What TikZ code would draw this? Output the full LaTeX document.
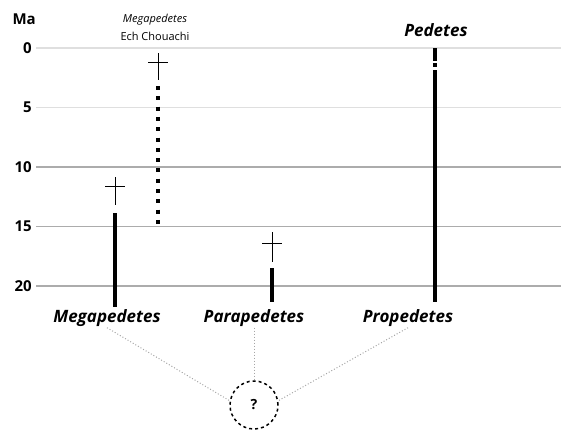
\documentclass[tikz,border=0pt]{standalone}
\usepackage{fontspec}
\setmainfont{Open Sans}
\begin{document}
\begin{tikzpicture}[x=1pt,y=-1pt,
  ma/.style={font=\bfseries\fontsize{15}{17}\selectfont, anchor=east, inner sep=0pt},
  genus/.style={font=\bfseries\itshape\fontsize{17}{19}\selectfont, inner sep=1pt},
  site/.style={font=\fontsize{11}{18}\selectfont, align=center, inner sep=0pt},
  rangebar/.style={line width=4.5pt},
  gapbar/.style={line width=3.5pt, dash pattern=on 4pt off 6.3pt},
  dagger/.style={line width=1pt},
  link/.style={gray!70, dotted, line width=1pt},
  ancestor/.style={circle, draw, dashed, line width=1.5pt, minimum size=48pt,
    font=\bfseries\fontsize{14}{16}\selectfont}]
  \useasboundingbox (0,0) rectangle (561,432);
  % time axis
  \node[ma] (ma) at (36,19) {Ma};
  \foreach \m/\c in {0/25,5/25,10/65,15/65,20/65} {
    \draw[gray!\c, line width=1.2pt] (36,48+11.9*\m) -- (561,48+11.9*\m);
    \node[ma] (t\m) at (32,48+11.9*\m) {\m};
  }
  % Megapedetes
  \draw[dagger] (115,177) -- (115,205) (105,186) -- (125,186);
  \draw[rangebar] (115,213) -- (115,307);
  % Ech Chouachi record
  \node[site] (chou) at (155,27) {\itshape Megapedetes\\Ech Chouachi};
  \draw[dagger] (158,53) -- (158,80) (148,62) -- (168,62);
  \draw[gapbar] (158,86) -- (158,224);
  % Parapedetes
  \draw[dagger] (272,232) -- (272,262) (262,243) -- (282,243);
  \draw[rangebar] (272,268) -- (272,302);
  % Pedetes / Propedetes
  \node[genus] (ped) at (436,30) {Pedetes};
  \draw[rangebar] (435,48) -- (435,61) (435,63) -- (435,67) (435,70) -- (435,302);
  % genera
  \node[genus] (mega) at (107,318) {Megapedetes};
  \node[genus] (para) at (254,318) {Parapedetes};
  \node[genus] (pro) at (408,318) {Propedetes};
  % common ancestor
  \node[ancestor] (anc) at (254,405) {?};
  \draw[link] (mega.south) -- (anc.170);
  \draw[link] (para.south) -- (anc.north);
  \draw[link] (pro.south) -- (anc.10);
\end{tikzpicture}
\end{document}
